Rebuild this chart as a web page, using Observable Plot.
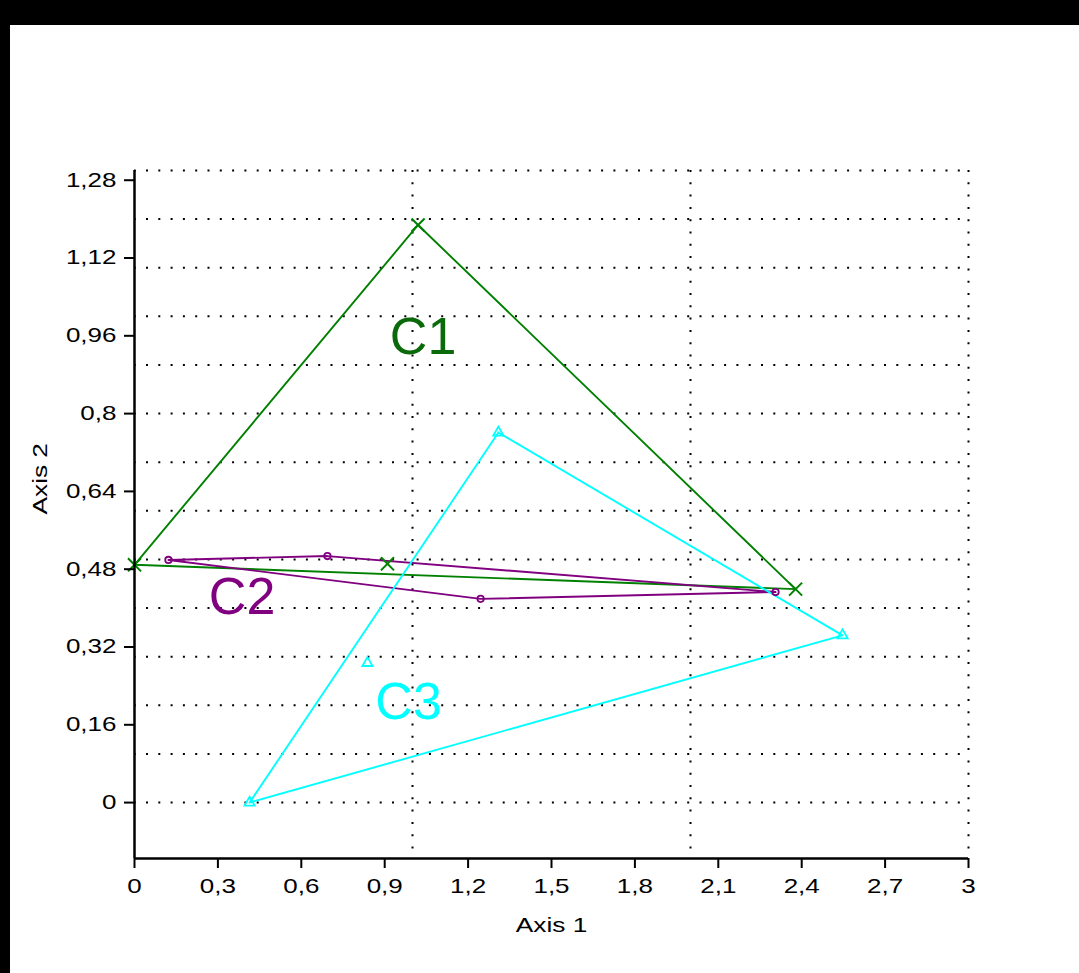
<!DOCTYPE html>
<html>
<head>
<meta charset="utf-8">
<script src="https://cdn.jsdelivr.net/npm/d3@7"></script>
<script src="https://cdn.jsdelivr.net/npm/@observablehq/plot@0.6"></script>
<style>
  html, body { margin: 0; padding: 0; background: #000; }
  #frame { position: absolute; left: 10px; top: 25px; width: 1069px; height: 948px; background: #fff; }
  svg { display: block; }
</style>
</head>
<body>
<div id="frame"></div>
<script>
// ---- data ----
const c1X = [0, 1.02, 2.378];
const c1Y = [0.489, 1.188, 0.439];
const c1ExtraX = [0.91];
const c1ExtraY = [0.491];

const c2X = [0.122, 0.694, 2.306, 1.245];
const c2Y = [0.499, 0.507, 0.433, 0.419];

const c3X = [0.414, 1.309, 2.547];
const c3Y = [0.0, 0.761, 0.344];
const c3ExtraX = [0.838];
const c3ExtraY = [0.287];

const clusterNames = ["C1", "C2", "C3"];
const labelX = [1.038, 0.387, 0.986];
const labelY = [0.957, 0.423, 0.207];

const xTicks = [0, 0.3, 0.6, 0.9, 1.2, 1.5, 1.8, 2.1, 2.4, 2.7, 3];
const yTicks = [0, 0.16, 0.32, 0.48, 0.64, 0.8, 0.96, 1.12, 1.28];
const yGrid = [0, 0.1, 0.2, 0.3, 0.4, 0.5, 0.6, 0.7, 0.8, 0.9, 1.0, 1.1, 1.2, 1.3];
const xGrid = [1, 2, 3];
const xDomain = [0, 3];
const yDomain = [-0.115, 1.3];

const colors = {C1: "#008000", C2: "#800080", C3: "#00ffff"};
const labelColors = {C1: "#0a6a0a", C2: "#800080", C3: "#00ffff"};

// ---- build tables ----
function closedPath(name, xs, ys) {
  const pts = xs.map((x, i) => ({cluster: name, x, y: ys[i]}));
  return pts.concat([pts[0]]);
}
function points(name, xs, ys) {
  return xs.map((x, i) => ({cluster: name, x, y: ys[i]}));
}
const paths = [
  ...closedPath("C1", c1X, c1Y),
  ...closedPath("C2", c2X, c2Y),
  ...closedPath("C3", c3X, c3Y)
];
const c1Pts = points("C1", c1X, c1Y).concat(points("C1", c1ExtraX, c1ExtraY));
const c2Pts = points("C2", c2X, c2Y);
const c3Pts = points("C3", c3X, c3Y).concat(points("C3", c3ExtraX, c3ExtraY));
const labels = clusterNames.map((n, i) => ({cluster: n, x: labelX[i], y: labelY[i]}));

const fmt = d => String(d).replace(".", ",");
const font = "Liberation Sans, Arial, sans-serif";

const chart = Plot.plot({
  width: 1069,
  height: 948,
  marginLeft: 124,
  marginRight: 111,
  marginTop: 145,
  marginBottom: 115,
  style: {fontFamily: font, fontSize: "20px", color: "#000", background: "#fff"},
  x: {domain: xDomain},
  y: {domain: yDomain},
  marks: [
    Plot.gridY(yGrid, {stroke: "#000", strokeOpacity: 1, strokeWidth: 2, strokeDasharray: "2,10.3", strokeDashoffset: -12}),
    Plot.gridX(xGrid, {stroke: "#000", strokeOpacity: 1, strokeWidth: 2, strokeDasharray: "2,10.3"}),
    Plot.line(paths, {x: "x", y: "y", z: "cluster", stroke: d => colors[d.cluster], strokeWidth: 1.9, curve: "linear"}),
    Plot.dot(c1Pts, {x: "x", y: "y", symbol: "times", r: 6, stroke: colors.C1, strokeWidth: 2}),
    Plot.dot(c2Pts, {x: "x", y: "y", symbol: "circle", r: 3.2, stroke: colors.C2, strokeWidth: 1.8}),
    Plot.dot(c3Pts, {x: "x", y: "y", symbol: "triangle", r: 3.8, stroke: colors.C3, strokeWidth: 1.8}),
    Plot.text(labels, {x: "x", y: "y", text: "cluster", fill: d => labelColors[d.cluster], fontSize: 52, fontFamily: font, textAnchor: "middle", lineAnchor: "middle"}),
    Plot.ruleX([xDomain[0]], {stroke: "#000", strokeWidth: 2.5}),
    Plot.ruleY([yDomain[0]], {stroke: "#000", strokeWidth: 2.5}),
    Plot.axisX(xTicks, {tickFormat: fmt, tickSize: 10, tickPadding: 10, strokeWidth: 2, label: null, fontSize: 20}),
    Plot.axisY(yTicks, {tickFormat: fmt, tickSize: 10, tickPadding: 8, strokeWidth: 2, label: null, fontSize: 20}),
    Plot.text(["Axis 1"], {frameAnchor: "bottom", dy: 73, text: d => d, fontSize: 21, fontFamily: font, fill: "#000", ariaLabel: () => "xtitle"}),
    Plot.text(["Axis 2"], {frameAnchor: "left", dx: -94, rotate: -90, text: d => d, fontSize: 21, fontFamily: font, fill: "#000", ariaLabel: () => "ytitle"})
  ]
});
document.getElementById("frame").appendChild(chart);

// Reference typography is horizontally stretched: widen axis texts about their anchor.
function stretch(selector, s) {
  chart.querySelectorAll(selector).forEach(t => {
    const xa = t.getAttribute("x");
    const xn = xa !== null && xa !== "" && !isNaN(+xa) ? +xa : 0;
    const tr = t.getAttribute("transform") || "";
    t.setAttribute("transform", `${tr} translate(${xn},0) scale(${s},1) translate(${-xn},0)`.trim());
  });
}
stretch('g[aria-label="x-axis tick label"] text, g[aria-label="y-axis tick label"] text', 1.3);
stretch('text[aria-label="xtitle"], text[aria-label="ytitle"]', 1.25);
</script>
</body>
</html>
